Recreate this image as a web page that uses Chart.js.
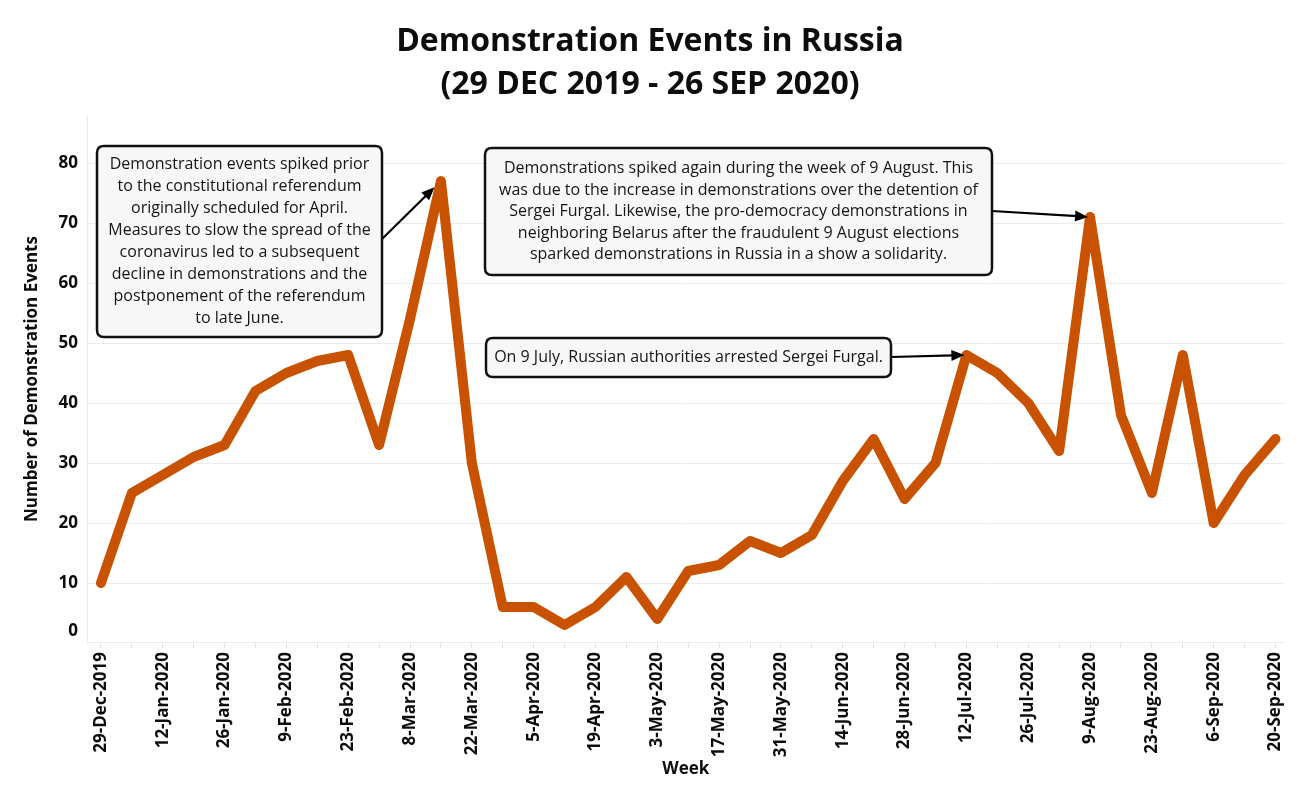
<!DOCTYPE html>
<html>
<head>
<meta charset="utf-8">
<script src="https://cdn.jsdelivr.net/npm/chart.js@4.4.0/dist/chart.umd.min.js"></script>
<style>
  html, body { margin: 0; padding: 0; background: #ffffff; }
  #wrap { width: 1300px; height: 800px; position: relative; }
</style>
</head>
<body>
<div id="wrap"><canvas id="c" width="1300" height="800"></canvas></div>
<script>
const weeks = ['29-Dec-2019','5-Jan-2020','12-Jan-2020','19-Jan-2020','26-Jan-2020','2-Feb-2020','9-Feb-2020','16-Feb-2020','23-Feb-2020','1-Mar-2020','8-Mar-2020','15-Mar-2020','22-Mar-2020','29-Mar-2020','5-Apr-2020','12-Apr-2020','19-Apr-2020','26-Apr-2020','3-May-2020','10-May-2020','17-May-2020','24-May-2020','31-May-2020','7-Jun-2020','14-Jun-2020','21-Jun-2020','28-Jun-2020','5-Jul-2020','12-Jul-2020','19-Jul-2020','26-Jul-2020','2-Aug-2020','9-Aug-2020','16-Aug-2020','23-Aug-2020','30-Aug-2020','6-Sep-2020','13-Sep-2020','20-Sep-2020'];
const events = [10,25,28,31,33,42,45,47,48,33,54,77,30,6,6,3,6,11,4,12,13,17,15,18,27,34,24,30,48,45,40,32,71,38,25,48,20,28,34];
const yTicks = [0,10,20,30,40,50,60,70,80];
const labelStep = 2;
const titleLines = ['Demonstration Events in Russia', '(29 DEC 2019 - 26 SEP 2020)'];

const noteTexts = [
  ['Demonstration events spiked prior','to the constitutional referendum','originally scheduled for April.','Measures to slow the spread of the','coronavirus led to a subsequent','decline in demonstrations and the','postponement of the referendum','to late June.'],
  ['Demonstrations spiked again during the week of 9 August. This','was due to the increase in demonstrations over the detention of','Sergei Furgal. Likewise, the pro-democracy demonstrations in','neighboring Belarus after the fraudulent 9 August elections','sparked demonstrations in Russia in a show a solidarity.'],
  ['On 9 July, Russian authorities arrested Sergei Furgal.']
];
const noteTargets = [11, 32, 28];

// layout of annotation boxes (pixels)
const noteLayout = [
  { x: 97,  y: 146, w: 285, h: 191, ax: 381, ay: 240, standoff: 9, lh: 22 },
  { x: 485, y: 148, w: 507, h: 127, ax: 992, ay: 211, standoff: 2, lh: 21.5 },
  { x: 486, y: 338, w: 405, h: 39,  ax: 891, ay: 357, standoff: 2, lh: 22 }
];

const FONT = '"Open Sans", "Liberation Sans", sans-serif';
const TXT = '#0d0d0d';

const annotPlugin = {
  id: 'annot',
  afterDraw(chart) {
    const { ctx, scales: { x, y } } = chart;
    ctx.save();
    // zero tick label (drawn slightly above the axis as in reference)
    ctx.font = 'bold 17px ' + FONT;
    ctx.fillStyle = TXT;
    ctx.textAlign = 'right';
    ctx.textBaseline = 'middle';
    ctx.fillText(String(yTicks[0]), y.right - 9, y.getPixelForValue(yTicks[0]) - 12);

    noteTexts.forEach((lines, k) => {
      const L = noteLayout[k];
      const idx = noteTargets[k];
      const px = x.getPixelForValue(idx), py = y.getPixelForValue(events[idx]);
      const dx = px - L.ax, dy = py - L.ay, d = Math.hypot(dx, dy);
      const ux = dx / d, uy = dy / d;
      const tx = px - ux * L.standoff, ty = py - uy * L.standoff;
      const hl = 13, hw = 5.5;
      const bx = tx - ux * hl, by = ty - uy * hl;
      ctx.strokeStyle = '#000';
      ctx.lineWidth = 2.2;
      ctx.beginPath(); ctx.moveTo(L.ax, L.ay); ctx.lineTo(bx + ux * 2, by + uy * 2); ctx.stroke();
      ctx.fillStyle = '#000';
      ctx.beginPath();
      ctx.moveTo(tx, ty);
      ctx.lineTo(bx - uy * hw, by + ux * hw);
      ctx.lineTo(bx + uy * hw, by - ux * hw);
      ctx.closePath(); ctx.fill();

      // box
      const r = 7;
      ctx.beginPath();
      ctx.moveTo(L.x + r, L.y);
      ctx.lineTo(L.x + L.w - r, L.y);
      ctx.quadraticCurveTo(L.x + L.w, L.y, L.x + L.w, L.y + r);
      ctx.lineTo(L.x + L.w, L.y + L.h - r);
      ctx.quadraticCurveTo(L.x + L.w, L.y + L.h, L.x + L.w - r, L.y + L.h);
      ctx.lineTo(L.x + r, L.y + L.h);
      ctx.quadraticCurveTo(L.x, L.y + L.h, L.x, L.y + L.h - r);
      ctx.lineTo(L.x, L.y + r);
      ctx.quadraticCurveTo(L.x, L.y, L.x + r, L.y);
      ctx.closePath();
      ctx.fillStyle = '#f7f7f7';
      ctx.fill();
      ctx.lineWidth = 2.5;
      ctx.strokeStyle = '#111';
      ctx.stroke();

      ctx.font = '16px ' + FONT;
      ctx.fillStyle = '#151515';
      ctx.textAlign = 'center';
      ctx.textBaseline = 'middle';
      const cx = L.x + L.w / 2, cy = L.y + L.h / 2;
      lines.forEach((s, i) => {
        ctx.fillText(s, cx, cy + (i - (lines.length - 1) / 2) * L.lh);
      });
    });
    ctx.restore();
  }
};

function draw() {
  new Chart(document.getElementById('c'), {
    type: 'line',
    data: {
      datasets: [{
        data: events.map((v, i) => ({ x: i, y: v })),
        borderColor: '#c85200',
        backgroundColor: '#c85200',
        borderWidth: 10,
        pointRadius: 0,
        pointHoverRadius: 0,
        tension: 0,
        borderCapStyle: 'round',
        borderJoinStyle: 'round',
        fill: false
      }]
    },
    options: {
      responsive: false,
      animation: false,
      events: [],
      layout: { padding: { left: 0, right: 0, top: 0, bottom: 0 } },
      plugins: {
        legend: { display: false },
        tooltip: { enabled: false },
        title: {
          display: true,
          text: titleLines,
          color: TXT,
          font: { family: FONT, size: 32, weight: 'bold', lineHeight: 1.344 },
          padding: { top: 20, bottom: 9 }
        }
      },
      scales: {
        x: {
          type: 'linear',
          bounds: 'data',
          min: -0.45,
          max: 38.29,
          afterBuildTicks: s => { s.ticks = weeks.map((w, i) => ({ value: i })); },
          afterFit: s => { s.height = 157; },
          grid: { drawOnChartArea: false, drawTicks: true, tickLength: 5, color: '#e3e3e3' },
          border: { display: true, color: '#ebebeb' },
          ticks: {
            autoSkip: false,
            minRotation: 90,
            maxRotation: 90,
            padding: 4,
            color: TXT,
            font: { family: FONT, size: 17, weight: 'bold' },
            callback: v => (Number.isInteger(v) && v % labelStep === 0) ? weeks[v] : ''
          },
          title: {
            display: true,
            text: 'Week',
            color: TXT,
            font: { family: FONT, size: 17, weight: 'bold' },
            padding: { top: 0, bottom: 21 }
          }
        },
        y: {
          min: 0,
          max: 88,
          afterBuildTicks: s => { s.ticks = yTicks.map(v => ({ value: v })); },
          afterFit: s => { s.width = 87; },
          grid: { color: '#ebebeb', drawTicks: false },
          border: { display: true, color: '#ebebeb' },
          ticks: {
            padding: 9,
            color: TXT,
            font: { family: FONT, size: 17, weight: 'bold' },
            callback: v => (v === yTicks[0] ? '' : String(v))
          },
          title: {
            display: true,
            text: 'Number of Demonstration Events',
            color: TXT,
            font: { family: FONT, size: 17, weight: 'bold' },
            padding: { top: 22, bottom: 0 }
          }
        },
        yRight: {
          position: 'right',
          min: 0,
          max: 88,
          afterFit: s => { s.width = 12; },
          grid: { display: false, drawTicks: false },
          border: { display: false },
          ticks: { display: false }
        }
      }
    },
    plugins: [annotPlugin]
  });
}

Promise.all([
  document.fonts.load('bold 17px "Open Sans"'),
  document.fonts.load('16px "Open Sans"'),
  document.fonts.load('bold 32px "Open Sans"')
]).then(draw, draw);
</script>
</body>
</html>
